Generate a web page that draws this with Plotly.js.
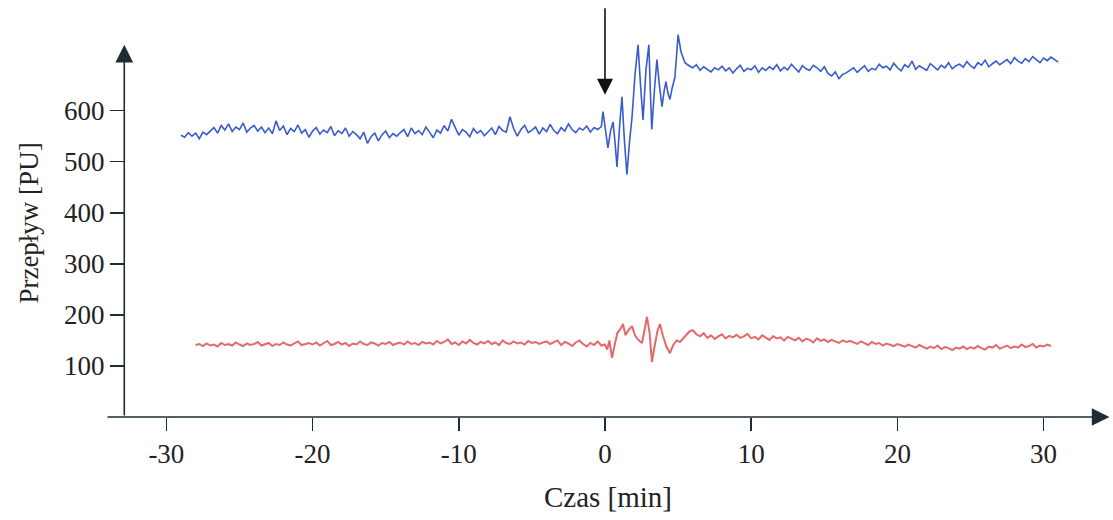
<!DOCTYPE html>
<html>
<head>
<meta charset="utf-8">
<script src="https://cdn.plot.ly/plotly-3.0.1.min.js"></script>
<style>html,body{margin:0;padding:0;background:#fff;}#chart{width:1113px;height:520px;}</style>
</head>
<body>
<div id="chart"></div>
<script>
// ---- Data ----
var xTickValues = [-30, -20, -10, 0, 10, 20, 30];
var xTickLabels = ["-30", "-20", "-10", "0", "10", "20", "30"];
var yTickValues = [100, 200, 300, 400, 500, 600];
var yTickLabels = ["100", "200", "300", "400", "500", "600"];

// Blue series – before event (time -29 .. -0.25, step 0.25 min)
var blueFlowBefore = [
  552, 548, 557, 550, 556, 545, 558, 553,
  560, 567, 556, 571, 562, 574, 559, 568, 563, 576, 558, 566, 571, 560, 568, 557,
  566, 555, 580, 561, 570, 553, 565, 559, 572, 556, 563, 548, 560, 567, 554, 562, 557, 569, 551, 561, 555, 566, 550, 559,
  553, 545, 558, 536, 549, 556, 541, 553, 560, 547, 555, 550,
  557, 563, 549, 566, 555, 561, 553, 568, 558, 547, 562, 556, 571, 560, 583, 566, 552, 563, 558, 549, 565, 556, 561, 551,
  559, 566, 553, 569, 561, 558, 588, 565, 550, 563, 571, 557, 562, 568, 554, 566, 559, 573, 561, 555, 567, 560, 574, 563, 557, 566, 562, 570, 558, 567, 563, 569
];
// Blue series – oscillation around the event
var blueTimeEvent = [-0.14, 0.05, 0.2, 0.38, 0.55, 0.68, 0.82, 1.0, 1.16, 1.33, 1.5, 1.68, 1.85, 2.05, 2.26, 2.43, 2.6, 2.8, 3.0, 3.1, 3.2, 3.38, 3.55, 3.72, 3.9, 4.05, 4.17, 4.3, 4.44, 4.6, 4.78, 4.9, 5.0, 5.2, 5.47];
var blueFlowEvent = [598, 560, 527, 560, 578, 540, 490, 570, 627, 540, 475, 540, 588, 670, 729, 650, 582, 680, 729, 640, 563, 640, 700, 650, 608, 640, 657, 635, 622, 645, 665, 710, 749, 715, 694];
// Blue series – after event (time 5.75 .. 31, step 0.25 min)
var blueFlowAfter = [
  688, 684, 690, 679, 686, 681, 676, 684,
  680, 687, 678, 684, 674, 682, 689, 677, 683, 680, 688, 675, 684, 679, 686, 681, 690, 678,
  685, 680, 691, 683, 676, 688, 682, 679, 689, 684, 677, 686,
  673, 668, 676, 663, 671, 674,
  679, 684, 675, 682, 688, 677, 683, 680, 691, 684,
  687, 680, 693, 684, 678, 690, 685, 697, 681, 688, 683, 679, 692, 686, 680, 689, 684, 694, 682, 688,
  691, 685, 696, 688, 683, 694, 689, 699, 686, 692, 697, 690,
  695, 700, 692, 704, 697, 693, 702, 696, 706, 699, 694, 703, 698, 705, 700, 695
];

// Red series – before event (time -28 .. -0.25, step 0.25 min)
var redFlowBefore = [
  141, 143, 139, 144, 140, 142, 138, 145, 141, 143, 140, 146, 142, 139, 144, 141, 143, 147, 140, 142, 145, 139, 143, 141, 146, 142, 140, 144, 148, 141, 143, 145,
  142, 146, 140, 144, 149, 141, 143, 147, 142, 145, 139, 144, 142, 148, 143, 141, 146, 144, 140, 145, 143, 147, 141, 144, 146, 142, 148, 143, 145, 141, 147, 144,
  146, 142, 149, 144, 147, 152, 143, 146, 141, 148, 144, 151, 145, 142, 147, 144, 149, 143, 146, 141, 150, 145, 143, 148, 144, 146, 142, 149, 145, 147, 143, 146,
  148, 143, 146, 150, 141, 147, 144, 139, 146, 150, 143, 138, 145, 141, 148, 140
];
// Red series – oscillation around the event
var redTimeEvent = [0.0, 0.15, 0.3, 0.48, 0.65, 0.85, 1.05, 1.23, 1.4, 1.6, 1.85, 2.05, 2.25, 2.53, 2.7, 2.87, 3.05, 3.21, 3.4, 3.6, 3.76, 3.95, 4.2, 4.44, 4.65, 4.9, 5.13, 5.35, 5.6, 5.8];
var redFlowEvent = [142, 132, 150, 116, 140, 165, 172, 182, 160, 170, 178, 160, 152, 145, 170, 196, 165, 108, 140, 170, 182, 160, 138, 125, 140, 150, 147, 155, 162, 168];
// Red series – after event (time 6 .. 30.5, step 0.25 min)
var redFlowAfter = [
  170, 162, 158, 164, 155, 160, 153, 158, 162, 154, 159, 156,
  161, 155, 158, 163, 154, 157, 152, 160, 155, 151, 158, 154, 156, 150, 157, 153,
  150, 155, 148, 153, 151, 146, 154, 149, 152, 147, 151, 148, 145, 150, 147, 149,
  146, 143, 148, 144, 141, 147, 143, 145, 140, 144, 142, 139, 143, 141, 138, 142,
  139, 136, 141, 137, 134, 138, 135, 140, 133, 137, 135, 131, 136, 134, 138, 133,
  137, 134, 139, 135, 132, 138, 136, 141, 134, 137, 140, 135, 138, 136, 142, 137,
  139, 143, 136, 140, 138, 142, 139
];

// ---- Build time axes for the regularly sampled segments ----
function timeGrid(start, step, n) {
  var t = [];
  for (var i = 0; i < n; i++) t.push(+(start + i * step).toFixed(3));
  return t;
}
var blueTime = timeGrid(-29, 0.25, blueFlowBefore.length)
  .concat(blueTimeEvent, timeGrid(5.75, 0.25, blueFlowAfter.length));
var blueFlow = blueFlowBefore.concat(blueFlowEvent, blueFlowAfter);
var redTime = timeGrid(-28, 0.25, redFlowBefore.length)
  .concat(redTimeEvent, timeGrid(6, 0.25, redFlowAfter.length));
var redFlow = redFlowBefore.concat(redFlowEvent, redFlowAfter);

var serif = "Liberation Serif, Times New Roman, serif";
var axisColor = "#1d2d36";

var traces = [
  {x: blueTime, y: blueFlow, type: "scatter", mode: "lines",
   line: {color: "#3a5bd0", width: 1.6}, hoverinfo: "skip"},
  {x: redTime, y: redFlow, type: "scatter", mode: "lines",
   line: {color: "#e46a6a", width: 2}, hoverinfo: "skip"}
];

var layout = {
  width: 1113, height: 520,
  margin: {l: 106, r: 3, t: 29, b: 103},
  paper_bgcolor: "#fff", plot_bgcolor: "rgba(0,0,0,0)",
  showlegend: false,
  xaxis: {
    range: [-34.13, 34.54], showgrid: false, zeroline: false, showline: false,
    tickmode: "array", tickvals: xTickValues, ticktext: xTickLabels,
    ticks: "outside", ticklen: 13, tickwidth: 1.5, tickcolor: axisColor,
    tickfont: {family: serif, size: 27, color: "#222"},
    title: {text: "Czas [min]", font: {family: serif, size: 29, color: "#222"}, standoff: 18},
    fixedrange: true
  },
  yaxis: {
    range: [0, 760], showgrid: false, zeroline: false, showline: false,
    anchor: "free", position: 0.0179,
    tickmode: "array", tickvals: yTickValues, ticktext: yTickLabels,
    ticks: "outside", ticklen: 14, tickwidth: 1.5, tickcolor: axisColor,
    tickfont: {family: serif, size: 27, color: "#222"},
    title: {text: "Przepływ [PU]", font: {family: serif, size: 27, color: "#222"}, standoff: 16},
    fixedrange: true
  },
  annotations: [
    // x axis with arrow
    {x: 34.5, y: 0, xref: "x", yref: "y", ax: -34.13, ay: 0, axref: "x", ayref: "y",
     text: "", showarrow: true, arrowhead: 2, arrowsize: 2.2, arrowwidth: 1.6, arrowcolor: axisColor, standoff: 0},
    // y axis with arrow
    {x: -32.88, y: 729, xref: "x", yref: "y", ax: -32.88, ay: 0, axref: "x", ayref: "y",
     text: "", showarrow: true, arrowhead: 2, arrowsize: 2.2, arrowwidth: 1.6, arrowcolor: axisColor, standoff: 0},
    // event marker arrow
    {x: 0, y: 631, xref: "x", yref: "y", ax: 0, ay: -88,
     text: "", showarrow: true, arrowhead: 2, arrowsize: 2, arrowwidth: 1.6, arrowcolor: "#111", standoff: 0}
  ]
};

Plotly.newPlot("chart", traces, layout, {displayModeBar: false, staticPlot: true});
</script>
</body>
</html>
